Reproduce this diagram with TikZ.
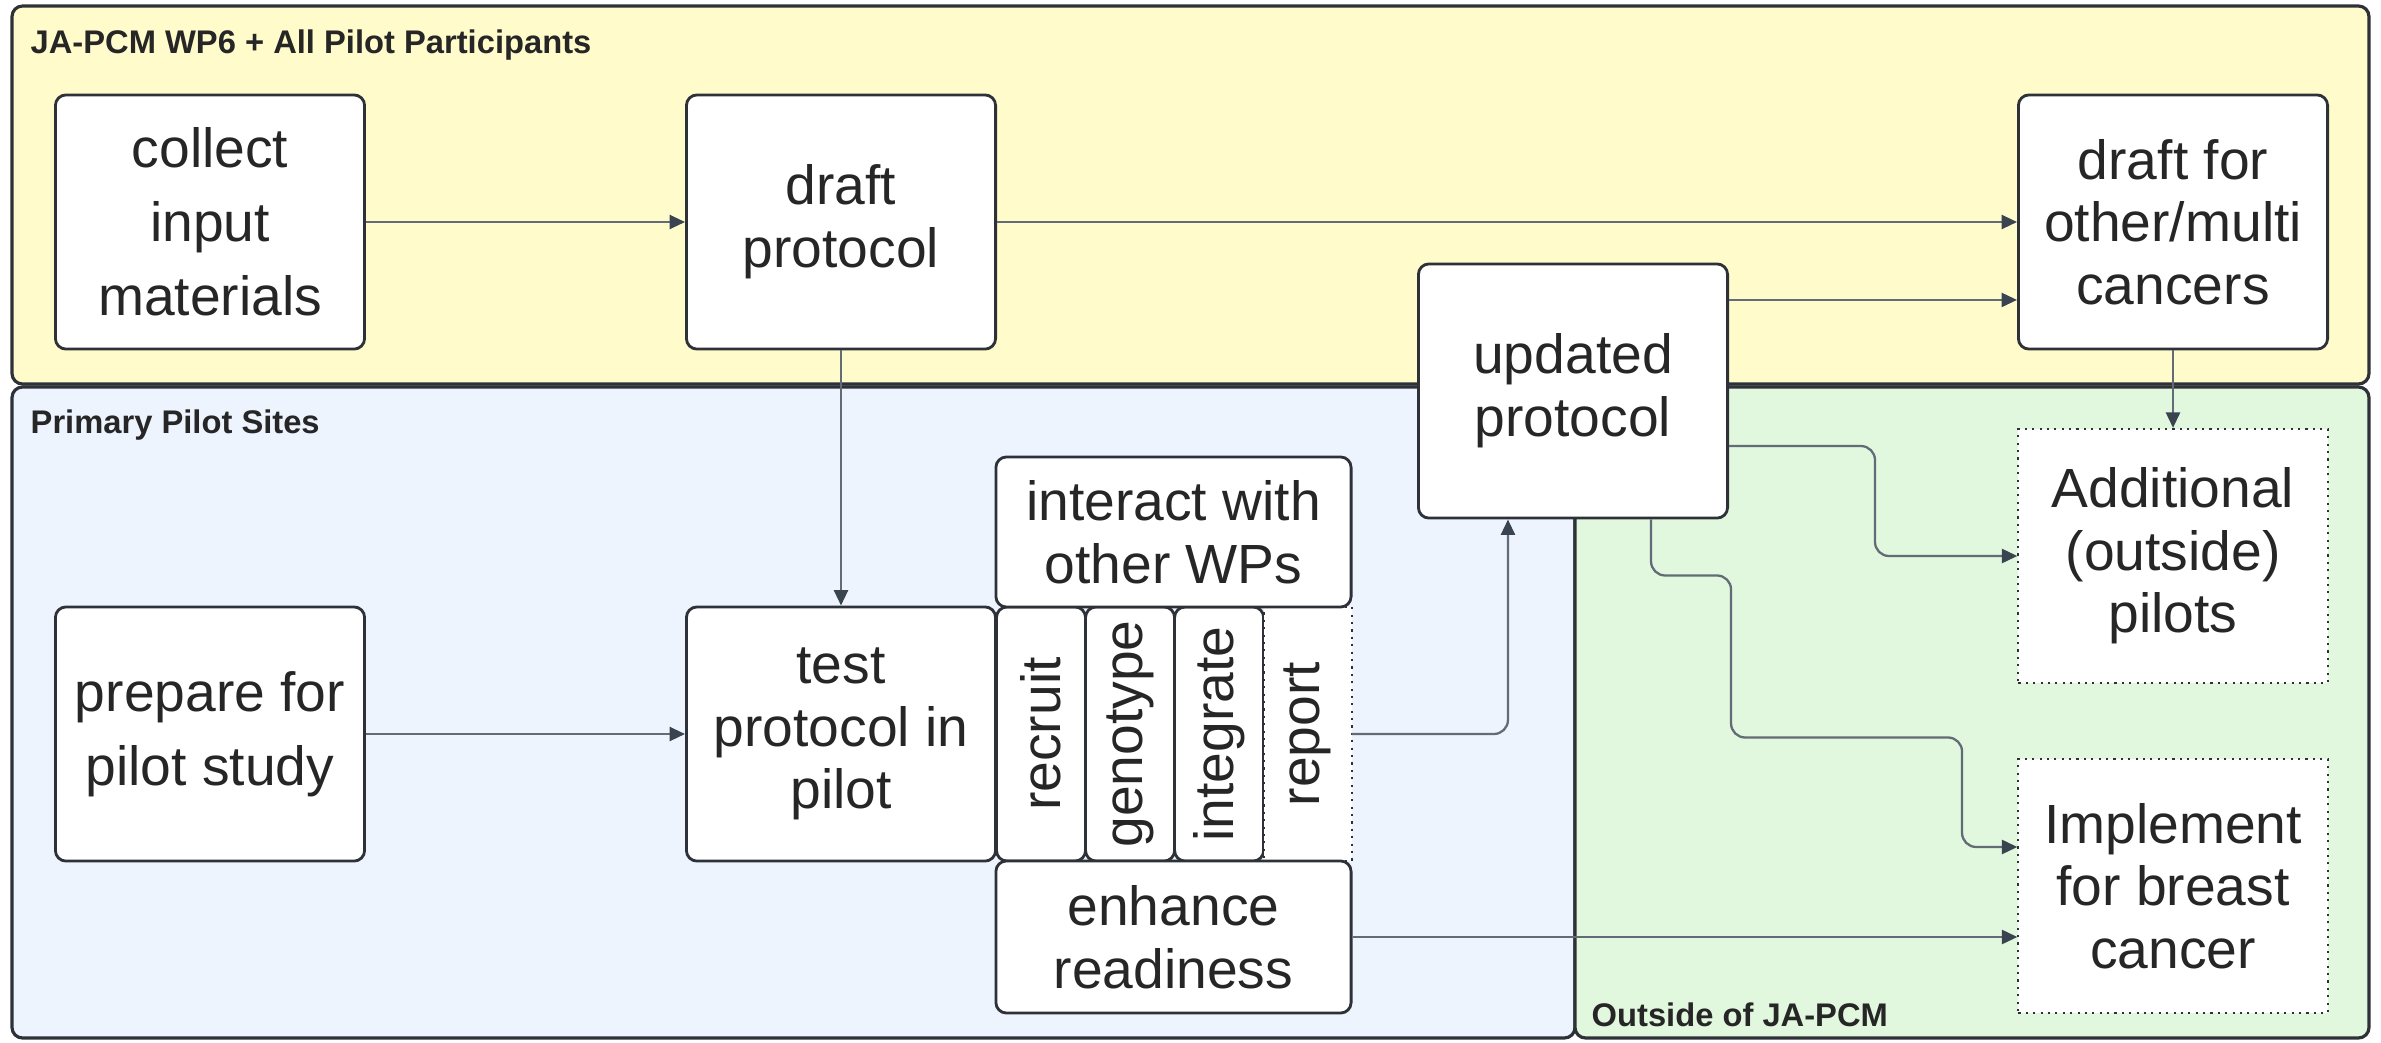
\documentclass[tikz,border=0pt]{standalone}
\usepackage{fontspec}
\usepackage{graphicx}
\setmainfont{Liberation Sans}
\usetikzlibrary{arrows.meta,positioning}
\definecolor{laneyellow}{HTML}{FFFBCB}
\definecolor{laneblue}{HTML}{EDF4FE}
\definecolor{lanegreen}{HTML}{E1F8DF}
\definecolor{edge}{HTML}{2E3238}
\definecolor{wire}{HTML}{626B76}
\definecolor{tip}{HTML}{3A4350}
\definecolor{ink}{HTML}{262626}
\tikzset{
  lane/.style={draw=edge, line width=0.9pt, rounded corners=3pt},
  lanelbl/.style={anchor=west, inner sep=0pt, text=ink, font=\fontsize{9.3}{11}\selectfont\bfseries},
  task/.style={draw=edge, fill=white, line width=0.8pt, rounded corners=3pt,
    minimum width=3.09cm, minimum height=2.54cm, inner sep=2pt, align=center,
    text=ink, font=\fontsize{15.7}{17.8}\selectfont},
  loose/.style={font=\fontsize{15.7}{21}\selectfont},
  goal/.style={task, rounded corners=0pt, line width=0.6pt, dash pattern=on 0.6pt off 1.5pt},
  part/.style={task, minimum width=0.89cm, minimum height=2.54cm, inner sep=0pt, outer sep=0pt},
  flow/.style={draw=wire, line width=0.65pt, rounded corners=4pt,
    -{Triangle[length=4.4pt, width=4pt, color=tip]}}
}
\begin{document}
\begin{tikzpicture}[x=0.01cm, y=-0.01cm]
  \useasboundingbox (0,0) rectangle (2381,1042);

  % swim lanes
  \draw[lane, fill=laneyellow] (12,6) rectangle (2369,384);
  \draw[lane, fill=laneblue] (12,387) rectangle (1575,1038);
  \draw[lane, fill=lanegreen] (1575,387) rectangle (2369,1038);
  \node[lanelbl] (wp6lbl) at (30,45) {JA-PCM WP6 + All Pilot Participants};
  \node[lanelbl] (sitelbl) at (30,425) {Primary Pilot Sites};
  \node[lanelbl] (outlbl) at (1591,1015) {Outside of JA-PCM};

  % protocol work
  \node[task, loose] (collect) at (210,222) {collect\\input\\materials};
  \node[task] (draft) at (841,222) {draft\\protocol};
  \node[task] (other) at (2173,222) {draft for\\other/multi\\cancers};
  \node[task] (updated) at (1573,391) {updated\\protocol};

  % pilot sites
  \node[task, loose] (prepare) at (210,734) {prepare for\\pilot study};
  \node[task] (test) at (841,734) {test\\protocol in\\pilot};
  \node[part] (recruit) at (1041,734) {\rotatebox{90}{recruit}};
  \node[part, right=0pt of recruit] (genotype) {\rotatebox{90}{genotype}};
  \node[part, right=0pt of genotype] (integrate) {\rotatebox{90}{integrate}};
  \node[goal, minimum width=0.88cm, inner sep=0pt, outer sep=0pt, right=0pt of integrate] (report) {\rotatebox{90}{report}};
  \node[task, minimum width=3.55cm, minimum height=1.50cm] (interact) at (1173.5,532) {interact with\\other WPs};
  \node[task, minimum width=3.55cm, minimum height=1.52cm] (enhance) at (1173.5,937) {enhance\\readiness};

  % outside
  \node[goal] (additional) at (2173,556) {Additional\\(outside)\\pilots};
  \node[goal] (implement) at (2173,886) {Implement\\for breast\\cancer};

  % connectors
  \draw[flow] (collect) -- (draft);
  \draw[flow] (draft) -- (other);
  \draw[flow] ([yshift=0.91cm]updated.east) -- ([yshift=0.91cm]updated.east -| other.west);
  \draw[flow] (other) -- (additional);
  \draw[flow] (draft) -- (test);
  \draw[flow] (prepare) -- (test);
  \draw[flow] (report.east) -| ([xshift=-0.65cm]updated.south);
  \draw[flow] ([yshift=-0.55cm]updated.east) -- ++(146,0) |- (additional.west);
  \draw[flow] ([xshift=0.78cm]updated.south) -- ++(0,56) -- ++(80,0) -- ++(0,162)
    -- ++(231,0) |- ([yshift=0.39cm]implement.west);
  \draw[flow] (enhance.east) -- (enhance.east -| implement.west);
\end{tikzpicture}
\end{document}
